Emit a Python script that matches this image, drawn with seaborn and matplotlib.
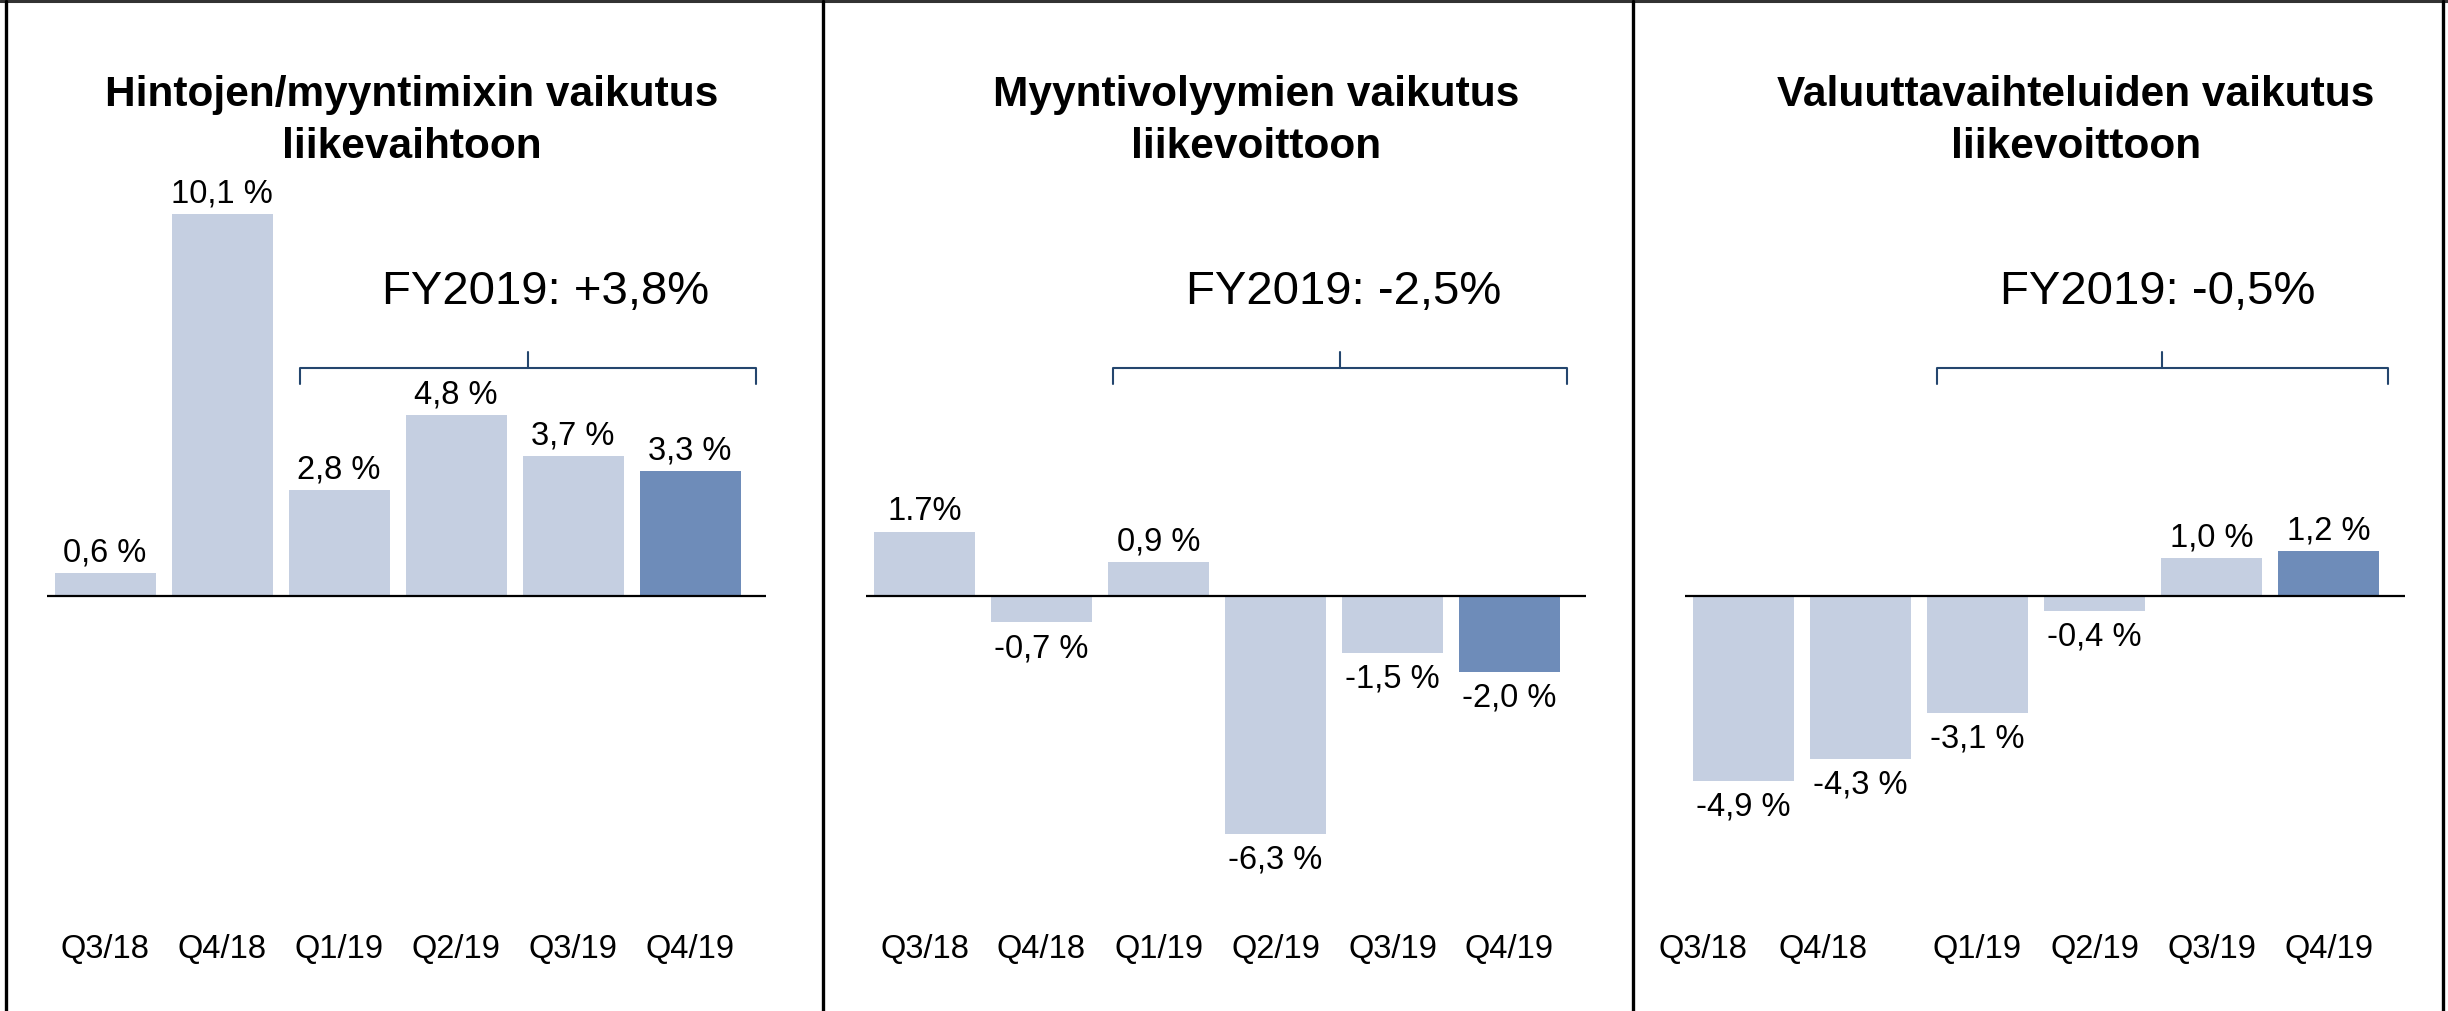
import matplotlib
matplotlib.use("Agg")
import matplotlib.pyplot as plt
import pandas as pd
import seaborn as sns
from matplotlib.lines import Line2D

# data
quarters = ["Q3/18", "Q4/18", "Q1/19", "Q2/19", "Q3/19", "Q4/19"]

price_mix = [0.6, 10.1, 2.8, 4.8, 3.7, 3.3]
price_mix_labels = ["0,6 %", "10,1 %", "2,8 %", "4,8 %", "3,7 %", "3,3 %"]

volume = [1.7, -0.7, 0.9, -6.3, -1.5, -2.0]
volume_labels = ["1.7%", "-0,7 %", "0,9 %", "-6,3 %", "-1,5 %", "-2,0 %"]

currency = [-4.9, -4.3, -3.1, -0.4, 1.0, 1.2]
currency_labels = ["-4,9 %", "-4,3 %", "-3,1 %", "-0,4 %", "1,0 %", "1,2 %"]

titles = ["Hintojen/myyntimixin vaikutus\nliikevaihtoon",
          "Myyntivolyymien vaikutus\nliikevoittoon",
          "Valuuttavaihteluiden vaikutus\nliikevoittoon"]
fy_texts = ["FY2019: +3,8%", "FY2019: -2,5%", "FY2019: -0,5%"]

LIGHT = "#C5CFE1"
DARK = "#6E8CB9"
BRACKET = "#24466E"

sns.set_style("white")
plt.rcParams["font.family"] = ["Liberation Sans", "DejaVu Sans"]
plt.rcParams["text.color"] = "black"
plt.rcParams["xtick.color"] = "black"
plt.rcParams["xtick.labelcolor"] = "black"

W, H = 2448, 1012
fig = plt.figure(figsize=(W / 100, H / 100), dpi=100)

def fx(px):
    return px / W

def fy(py):
    return 1 - py / H

# layout in pixels (from the reference)
baseline_px = 597
unit_px = 37.8
spacing_px = 117
axes_bottom_px = 920
panels = [
    # (left, right, first bar centre, title centre x, fy centre x, bracket x0, x1)
    (0, 823, 105, 412, 546, 1.67, 5.56),
    (823, 1633, 924.5, 1256, 1344, 1.615, 5.49),
    (1633, 2448, 1743.5, 2076, 2158, 1.65, 5.51),
]
tick_pos = [
    [0, 1, 2, 3, 4, 5],
    [0, 1, 2, 3, 4, 5],
    [-0.35, 0.68, 2, 3, 4, 5],
]

series = [(price_mix, price_mix_labels), (volume, volume_labels), (currency, currency_labels)]
palette = [LIGHT] * 5 + [DARK]

y_top = baseline_px / unit_px
y_bot = -(axes_bottom_px - baseline_px) / unit_px

for i, ((vals, labs), (left, right, c0, tx, fx_c, b0, b1)) in enumerate(zip(series, panels)):
    ax = fig.add_axes([fx(left), fy(axes_bottom_px), fx(right - left), axes_bottom_px / H])
    df = pd.DataFrame({"quarter": quarters, "value": vals})
    sns.barplot(data=df, x="quarter", y="value", hue="quarter", palette=palette,
                saturation=1, width=101 / spacing_px, linewidth=0, legend=False, ax=ax)

    for cont, lab, v in zip(ax.containers, labs, vals):
        ax.bar_label(cont, labels=[lab], padding=4 if v >= 0 else 7, fontsize=23.5,
                     color="black")

    ax.plot([-0.5, 5.65], [0, 0], color="black", lw=1.6, solid_capstyle="butt")

    # bracket over the FY2019 quarters
    by = (baseline_px - 369) / unit_px
    drop = 16 / unit_px
    ax.plot([b0, b0, b1, b1], [by - drop, by, by, by - drop], color=BRACKET, lw=1.5)
    bm = (b0 + b1) / 2
    ax.plot([bm, bm], [by, by + drop], color=BRACKET, lw=1.5)

    ax.set_xlim((left - c0) / spacing_px, (right - c0) / spacing_px)
    ax.set_ylim(y_bot, y_top)
    ax.set_xticks(tick_pos[i])
    ax.set_xticklabels(quarters, fontsize=23.5, color="black")
    ax.tick_params(axis="x", length=0, pad=10)
    ax.set_yticks([])
    ax.set_xlabel("")
    ax.set_ylabel("")
    ax.patch.set_visible(False)
    for s in ax.spines.values():
        s.set_visible(False)

    fig.text(fx(tx), fy(121), titles[i], ha="center", va="center", color="black",
             fontsize=30.5, fontweight="bold", linespacing=1.37)
    fig.text(fx(fx_c), fy(292), fy_texts[i], ha="center", va="center", fontsize=34,
             color="black")

# panel frames
fig.add_artist(Line2D([0, 1], [fy(2), fy(2)], color="#333333", lw=2.2))
for x in [6, 823, 1633, 2443]:
    fig.add_artist(Line2D([fx(x), fx(x)], [0, fy(2)], color="black", lw=2.4))

fig.savefig("out.png", dpi=100)
